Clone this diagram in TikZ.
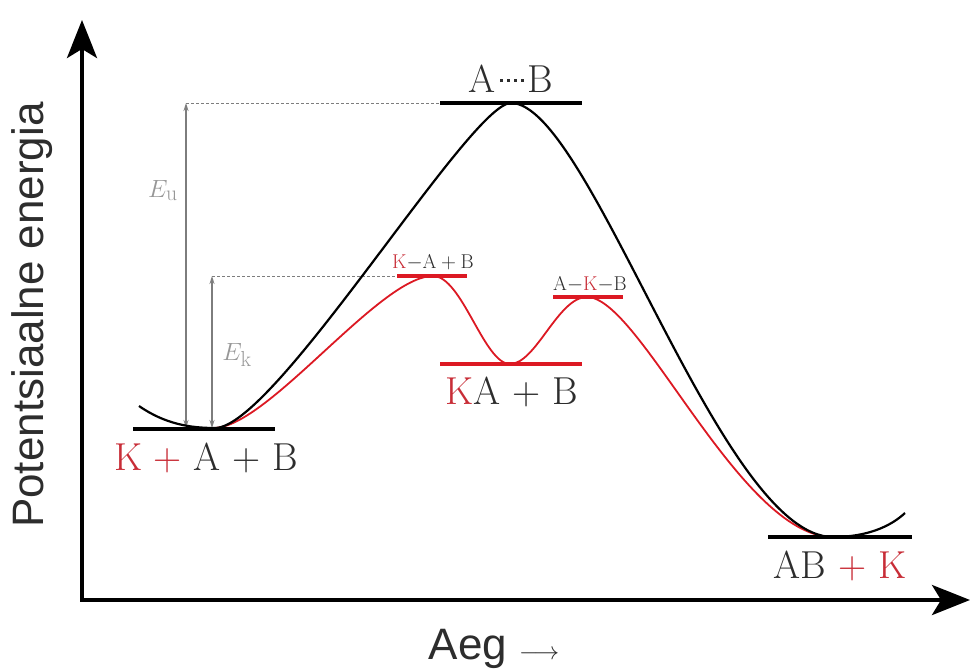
\documentclass[tikz,border=0pt]{standalone}
\usepackage{fontspec}
\usetikzlibrary{arrows.meta}
\newfontfamily\axfont{Liberation Sans}
\definecolor{cred}{RGB}{220,25,35}
\definecolor{lred}{RGB}{200,45,55}
\definecolor{cgray}{RGB}{125,125,125}
\definecolor{tgray}{RGB}{45,45,45}
\newcommand{\tsdots}{\kern1pt\cleaders\hbox to 7pt{\hss\rule[11pt]{3.4pt}{3.4pt}\hss}\hskip 30pt\kern1pt}
\begin{document}
\begin{tikzpicture}[x=1pt,y=-1pt,
  axisline/.style={line width=4pt,{Stealth[length=38pt,width=30pt,inset=9pt]}-{Stealth[length=38pt,width=30pt,inset=9pt]}},
  blevel/.style={line width=4.5pt,black},
  rlevel/.style={line width=4pt,cred},
  bcurve/.style={line width=2.2pt,black},
  rcurve/.style={line width=1.8pt,cred},
  guide/.style={cgray,line width=0.9pt,dashed,dash pattern=on 3pt off 2pt},
  enarrow/.style={cgray,line width=1.3pt,{Stealth[length=8pt,width=5pt]}-{Stealth[length=8pt,width=5pt]}},
  biglab/.style={inner sep=0pt,anchor=base,text=tgray,font=\fontsize{39}{40}\selectfont},
  smalllab/.style={inner sep=0pt,anchor=base,text=tgray,font=\fontsize{20}{20}\selectfont},
  elab/.style={inner sep=0pt,anchor=base,text=cgray!80,font=\fontsize{31}{31}\selectfont},
  axlab/.style={inner sep=0pt,text=tgray,font=\axfont\fontsize{44}{46}\selectfont}
]
\useasboundingbox (0,0) rectangle (973,671);

% key points
\coordinate (O) at (82,600);
\coordinate (ytop) at (82,20);
\coordinate (xend) at (970,600);
\coordinate (curlL) at (139,406);
\coordinate (R) at (215,428);
\coordinate (TS) at (511,103);
\coordinate (P) at (833,537);
\coordinate (curlR) at (905,513);
\coordinate (T1) at (433,276);
\coordinate (I) at (510,364);
\coordinate (T2) at (587,297);

% level lines
\coordinate (Rl) at (133,429); \coordinate (Rr) at (275,429);
\coordinate (TSl) at (440,103); \coordinate (TSr) at (582,103);
\coordinate (Pl) at (768,537); \coordinate (Pr) at (912,537);
\coordinate (T1l) at (397,276); \coordinate (T1r) at (467,276);
\coordinate (Il) at (440,364); \coordinate (Ir) at (582,364);
\coordinate (T2l) at (553,297); \coordinate (T2r) at (623,297);

% energy arrows and guides
\coordinate (EuT) at (186,103); \coordinate (EuB) at (186,428);
\coordinate (EkT) at (212,276); \coordinate (EkB) at (212,428);
\draw[guide] (EuT) -- (TSl);
\draw[guide] (EkT) -- (T1l);
\draw[enarrow] (EuT) -- (EuB);
\draw[enarrow] (EkT) -- (EkB);

% curves
\draw[rcurve] (R) .. controls (270,425) and (380,276) .. (T1)
  .. controls (462,276) and (484,364) .. (I)
  .. controls (536,364) and (558,297) .. (T2)
  .. controls (640,297) and (740,537) .. (P);
\draw[bcurve] (curlL) .. controls (165,424) and (190,428) .. (R)
  .. controls (275,428) and (470,103) .. (TS)
  .. controls (590,103) and (720,537) .. (P)
  .. controls (866,537) and (890,527) .. (curlR);

\draw[blevel] (Rl) -- (Rr);
\draw[blevel] (TSl) -- (TSr);
\draw[blevel] (Pl) -- (Pr);
\draw[rlevel] (T1l) -- (T1r);
\draw[rlevel] (Il) -- (Ir);
\draw[rlevel] (T2l) -- (T2r);

% axes
\draw[axisline] (ytop) -- (O) -- (xend);

% labels
\node[biglab] (labTS) at (511,93) {A\tsdots B};
\node[biglab] (labR) at (206,470) {\textcolor{lred}{K +} A + B};
\node[biglab] (labI) at (512,404) {\textcolor{lred}{K}A + B};
\node[biglab] (labP) at (840,578) {AB \textcolor{lred}{+ K}};
\node[smalllab] (labT1) at (433,268) {$\mathrm{\textcolor{lred}{K}{-}A+B}$};
\node[smalllab] (labT2) at (590,290) {$\mathrm{A{-}\textcolor{lred}{K}{-}B}$};
\node[elab] (labEu) at (163,197) {$E_{\mathrm{u}}$};
\node[elab] (labEk) at (237,360) {$E_{\mathrm{k}}$};
\node[axlab,rotate=90] (ylab) at (32,315) {Potentsiaalne energia};
\node[axlab] (xlab) at (494,649) {Aeg {\fontsize{36}{36}\selectfont$\longrightarrow$}};
\end{tikzpicture}
\end{document}
